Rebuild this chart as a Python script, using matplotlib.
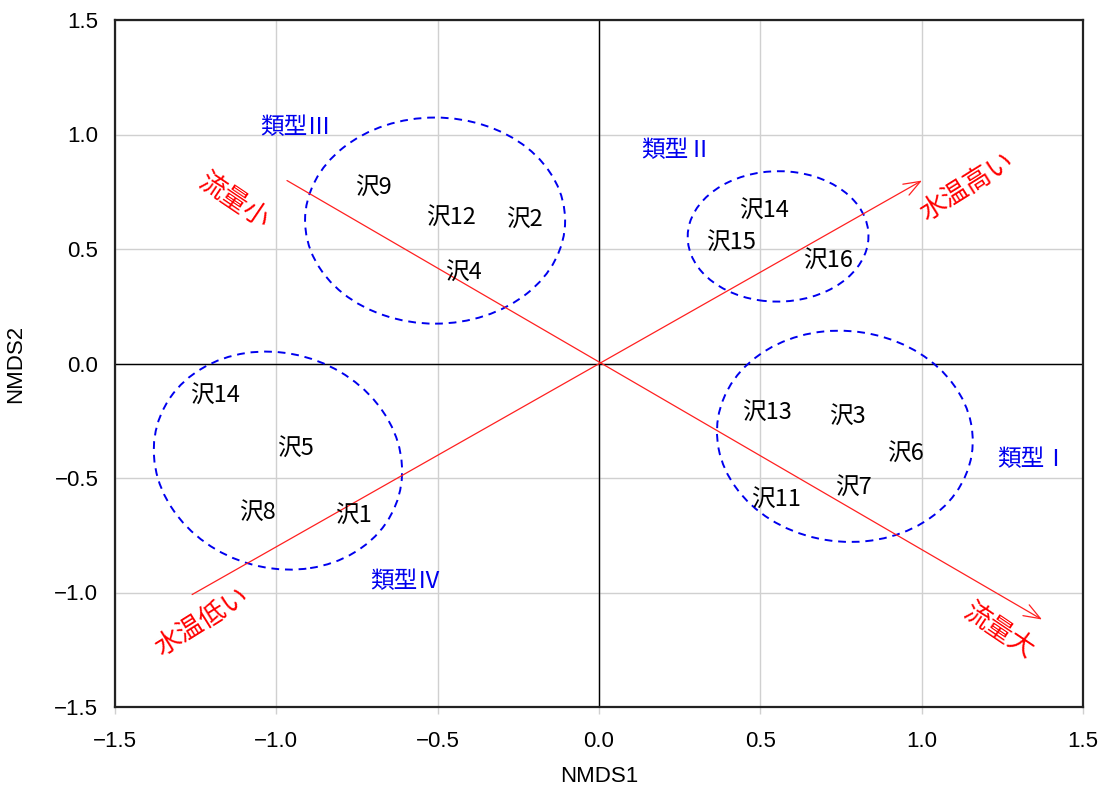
import matplotlib
matplotlib.use("Agg")
import matplotlib.pyplot as plt
import matplotlib.transforms as mtransforms
from matplotlib.patches import Ellipse

plt.rcParams['font.family'] = ['Noto Sans CJK JP', 'DejaVu Sans']

# Site scores (NMDS1, NMDS2)
site_names = ["沢9", "沢12", "沢2", "沢4",
              "沢14", "沢15", "沢16",
              "沢14", "沢5", "沢8", "沢1",
              "沢13", "沢3", "沢6", "沢7", "沢11"]
site_x = [-0.70, -0.46, -0.23, -0.42,
          0.51, 0.41, 0.71,
          -1.19, -0.94, -1.06, -0.76,
          0.52, 0.77, 0.95, 0.79, 0.55]
site_y = [0.79, 0.66, 0.65, 0.42,
          0.69, 0.55, 0.47,
          -0.12, -0.35, -0.63, -0.64,
          -0.19, -0.21, -0.37, -0.52, -0.57]

# Group ellipses: centre, width, height, angle
group_names = ["類型Ⅰ", "類型Ⅱ", "類型Ⅲ", "類型Ⅳ"]
group_label_x = [1.345, 0.24, -0.94, -0.60]
group_label_y = [-0.40, 0.95, 1.05, -0.93]
ell_cx = [0.762, 0.555, -0.508, -0.995]
ell_cy = [-0.318, 0.555, 0.624, -0.424]
ell_w = [0.79, 0.56, 0.806, 0.76]
ell_h = [0.925, 0.57, 0.90, 0.96]
ell_angle = [8, -12, 0, 12]

# Environmental vectors: tail -> head
vec_tail_x = [-1.261, -0.967]
vec_tail_y = [-1.009, 0.799]
vec_head_x = [1.001, 1.373]
vec_head_y = [0.799, -1.118]
vec_head_label = ["水温高い", "流量大"]
vec_tail_label = ["水温低い", "流量小"]
head_label_x = [1.14, 1.24]
head_label_y = [0.77, -1.17]
tail_label_x = [-1.23, -1.13]
tail_label_y = [-1.13, 0.71]
label_rot = [32, -34]

num_font = ['Liberation Sans Narrow', 'Liberation Sans', 'DejaVu Sans']

fig = plt.figure(figsize=(10.98, 7.87), dpi=100)
ax = fig.add_axes([115/1098, 80/787, (1083-115)/1098, (707-20)/787])

ax.set_xlim(-1.5, 1.5)
ax.set_ylim(-1.5, 1.5)
ticks = [-1.5, -1.0, -0.5, 0.0, 0.5, 1.0, 1.5]
ax.set_xticks(ticks)
ax.set_yticks(ticks)
tick_fmt = [f"{t:.1f}".replace("-", "\u2212") for t in ticks]
ax.set_xticklabels(tick_fmt)
ax.set_yticklabels(tick_fmt)
for lab in ax.get_xticklabels() + ax.get_yticklabels():
    lab.set_family(num_font)
    lab.set_fontsize(16)
ax.tick_params(axis='y', length=0, pad=12)
ax.tick_params(axis='x', length=5, color='#d0d0d0', width=1.0, pad=12)
ax.grid(True, color='#d0d0d0', lw=1.0)
ax.set_axisbelow(True)
ax.axhline(0, color='black', lw=1.0, zorder=1)
ax.axvline(0, color='black', lw=1.0, zorder=1)
for s in ax.spines.values():
    s.set_linewidth(1.6)
    s.set_color('#222222')

ax.set_xlabel("NMDS1", fontsize=16, family=num_font, labelpad=10)
ax.set_ylabel("NMDS2", fontsize=16, family=num_font, labelpad=20)

# CJK glyphs sit a little high with va='center'; nudge them down a few points
text_tf = ax.transData + mtransforms.ScaledTranslation(0, -3.5 / 72, fig.dpi_scale_trans)

# Ellipses
for cx, cy, w, h, a in zip(ell_cx, ell_cy, ell_w, ell_h, ell_angle):
    ax.add_patch(Ellipse((cx, cy), w, h, angle=a, fill=False,
                         edgecolor='#0000ee', lw=1.4, ls=(0, (4, 3)), zorder=3))

# Vectors
for tx, ty, hx, hy in zip(vec_tail_x, vec_tail_y, vec_head_x, vec_head_y):
    ax.annotate("", xy=(hx, hy), xytext=(tx, ty),
                arrowprops=dict(arrowstyle='->,head_length=1.2,head_width=0.45',
                                color='#ff2020', lw=0.9, shrinkA=0, shrinkB=0),
                zorder=4)
for lab, x, y, r in zip(vec_head_label, head_label_x, head_label_y, label_rot):
    ax.text(x, y, lab, color='#ff0000', fontsize=19, rotation=r,
            ha='center', va='center', rotation_mode='anchor', zorder=5)
for lab, x, y, r in zip(vec_tail_label, tail_label_x, tail_label_y, label_rot):
    ax.text(x, y, lab, color='#ff0000', fontsize=19, rotation=r,
            ha='center', va='center', rotation_mode='anchor', zorder=5)

# Site labels
for name, x, y in zip(site_names, site_x, site_y):
    ax.text(x, y, name, fontsize=17, ha='center', va='center', color='black',
            transform=text_tf, zorder=6)

# Group labels
for name, x, y in zip(group_names, group_label_x, group_label_y):
    ax.text(x, y, name, fontsize=17, ha='center', va='center', color='#0000ee',
            transform=text_tf, zorder=6)

fig.savefig("out.png", dpi=100)
